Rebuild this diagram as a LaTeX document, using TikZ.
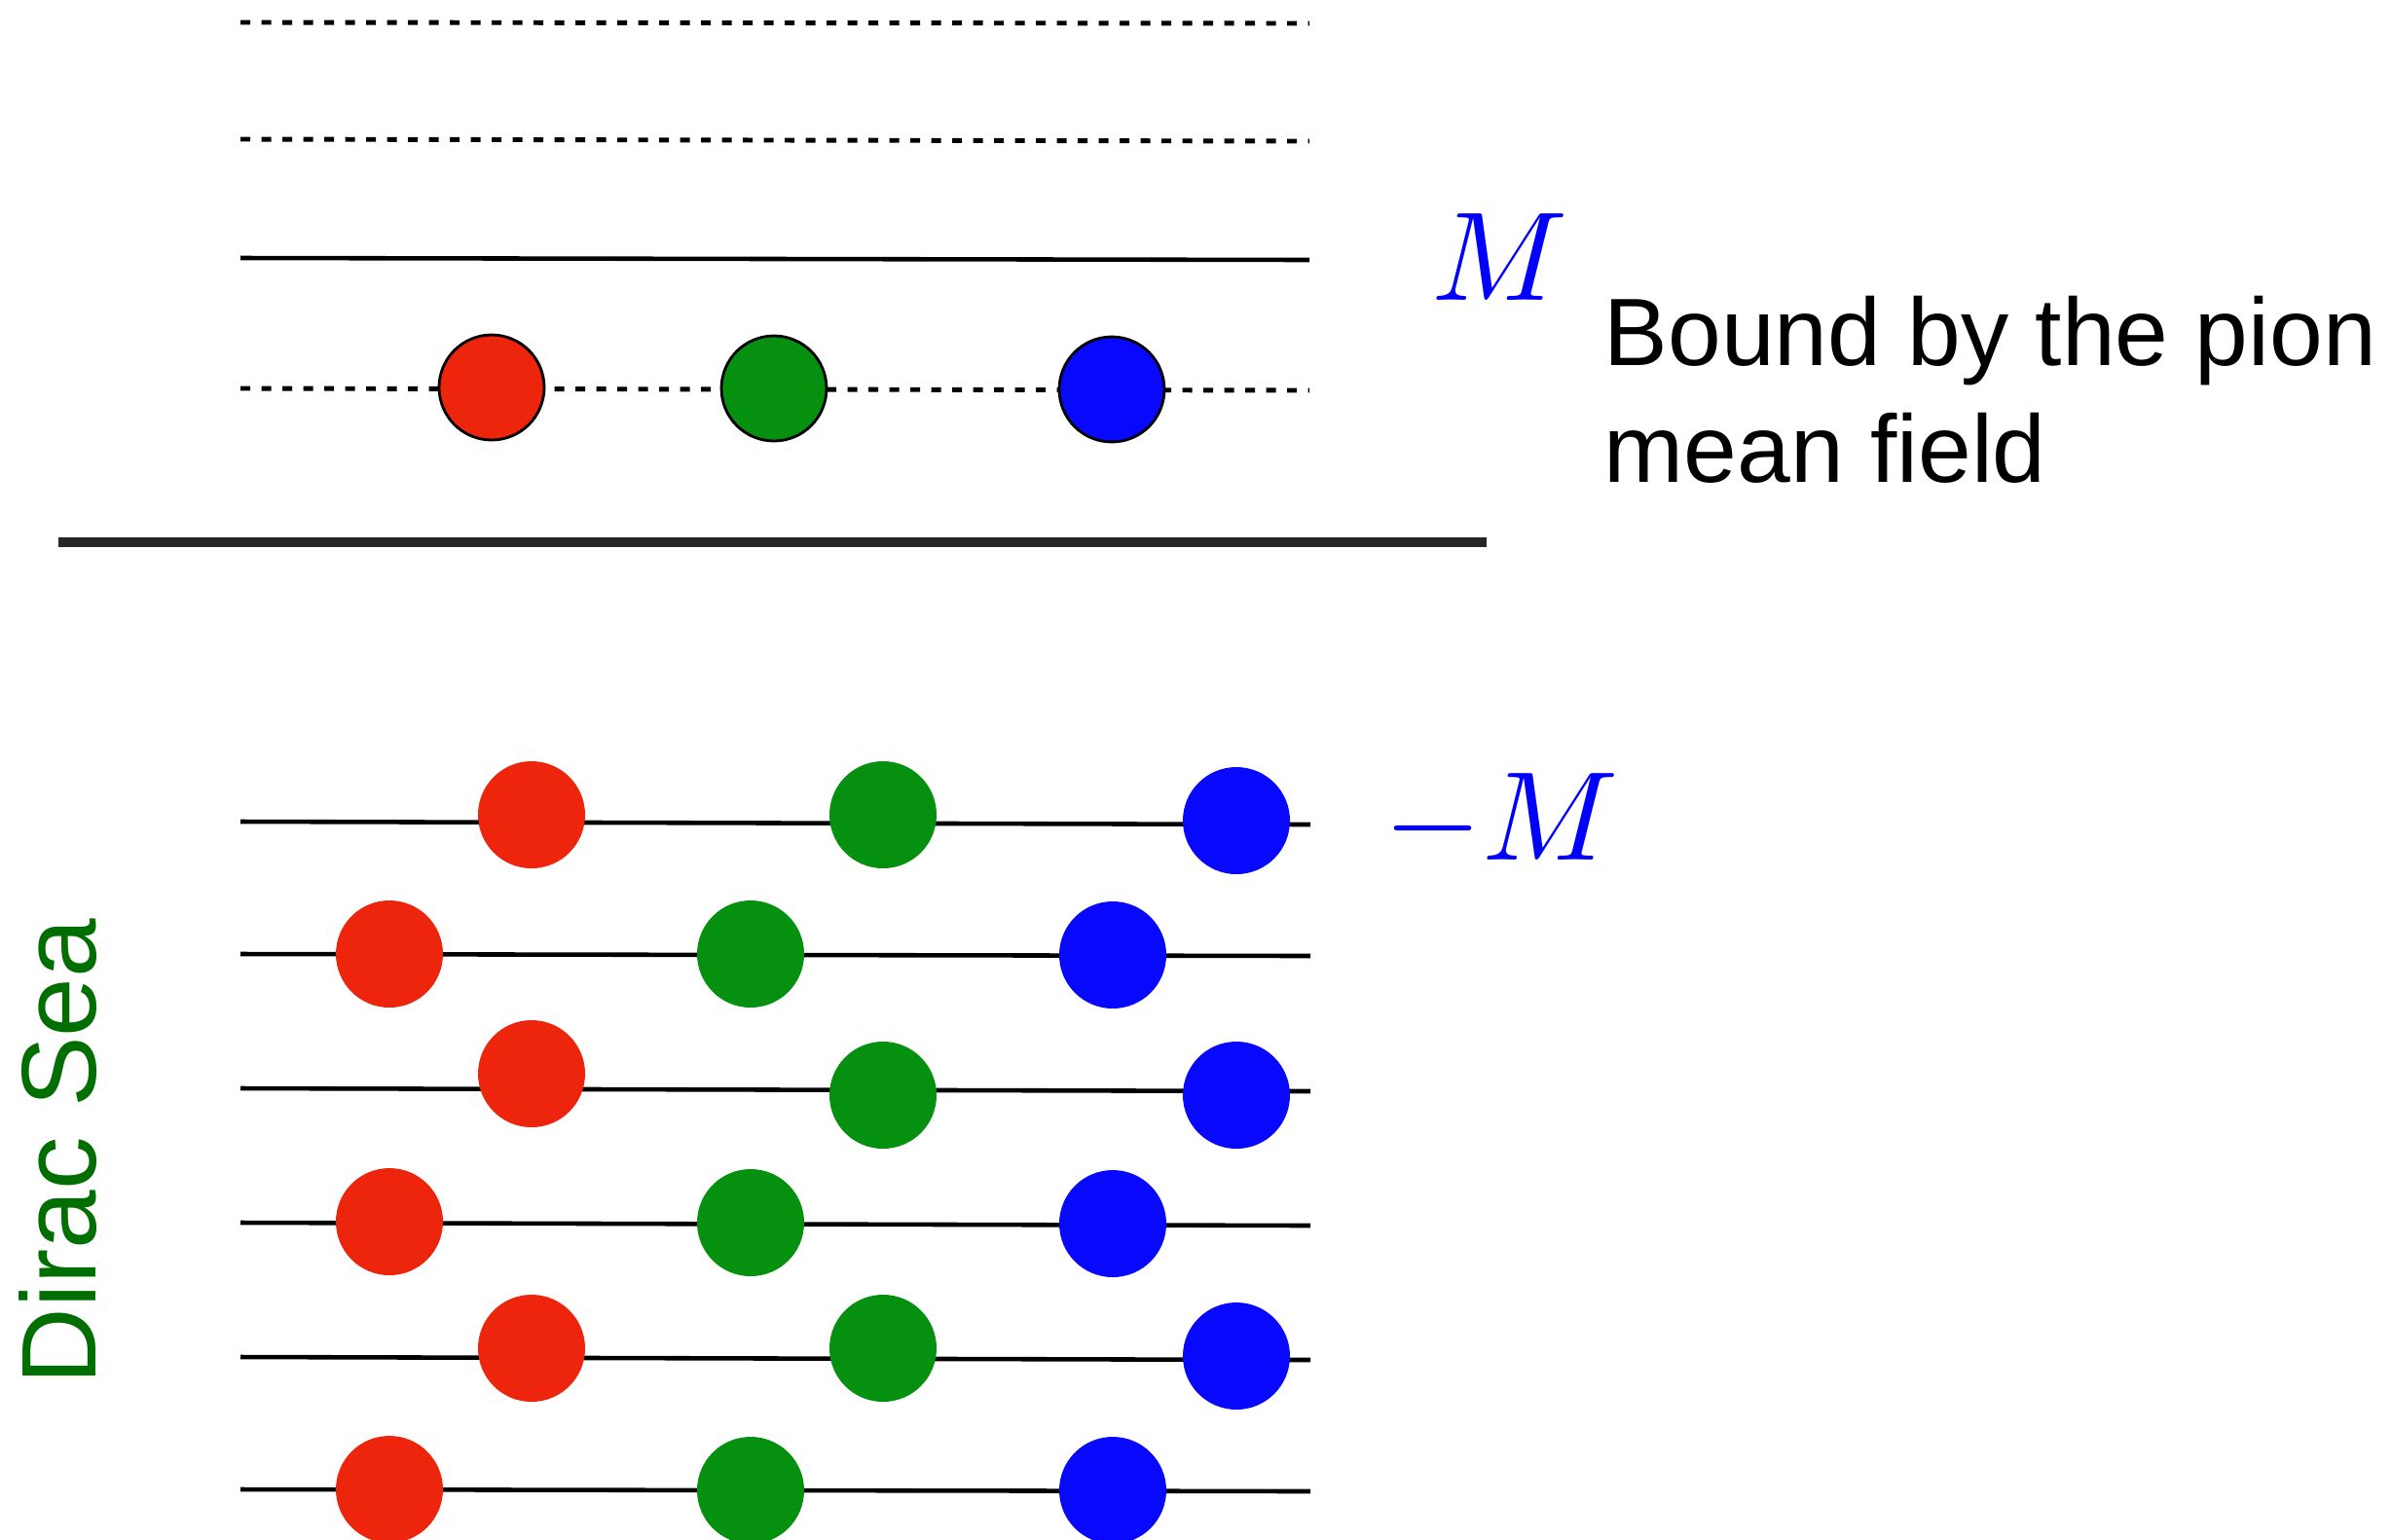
\documentclass[tikz,border=0pt]{standalone}
\usepackage{fontspec}
\setmainfont{Liberation Sans}
\usetikzlibrary{calc}

\definecolor{quarkred}{RGB}{238,37,13}
\definecolor{quarkgreen}{RGB}{5,145,15}
\definecolor{quarkblue}{RGB}{8,8,255}
\definecolor{seagreen}{RGB}{0,110,0}

\begin{document}
\begin{tikzpicture}[
    level/.style={line width=1.3pt},
    emptylevel/.style={line width=1.4pt, dash pattern=on 0.1cm off 0.115cm},
    valence/.style={circle, draw=black, line width=0.8pt, minimum size=1.08cm, inner sep=0pt},
    seaquark/.style={circle, minimum size=1.1cm, inner sep=0pt},
    mass/.style={text=blue, inner sep=0pt, anchor=base, scale=3.7}
  ]
    \useasboundingbox (0,0) rectangle (24.56,-15.81);

    % empty positive energy levels
    \coordinate (e1w) at (2.47,-0.23);  \coordinate (e1e) at (13.45,-0.24);
    \coordinate (e2w) at (2.47,-1.43);  \coordinate (e2e) at (13.45,-1.45);
    \coordinate (mw) at (2.47,-2.65);   \coordinate (me) at (13.45,-2.67);
    \coordinate (vw) at (2.47,-3.99);   \coordinate (ve) at (13.45,-4.01);
    \draw[emptylevel] (e1w) -- (e1e);
    \draw[emptylevel] (e2w) -- (e2e);
    \draw[level] (mw) -- (me);
    \draw[emptylevel] (vw) -- (ve);

    \node[valence, fill=quarkred] (vr) at (5.05,-3.98) {};
    \node[valence, fill=quarkgreen] (vg) at (7.95,-3.99) {};
    \node[valence, fill=quarkblue] (vb) at (11.42,-4.0) {};

    \node[mass] (plusm) at (15.41,-3.08) {$M$};
    \node[anchor=base west, inner sep=0pt, align=left, font=\fontsize{28}{33.9}\selectfont] (bound) at (16.47,-4.95) {Bound by the pion\\mean field};

    % gap
    \coordinate (gapw) at (0.6,-5.57);
    \coordinate (gape) at (15.27,-5.57);
    \draw[line width=0.1cm, black!85] (gapw) -- (gape);

    % filled negative energy levels
    \coordinate (s1w) at (2.47,-8.44);  \coordinate (s1e) at (13.46,-8.47);
    \coordinate (s2w) at (2.47,-9.80);  \coordinate (s2e) at (13.46,-9.82);
    \coordinate (s3w) at (2.47,-11.18); \coordinate (s3e) at (13.46,-11.21);
    \coordinate (s4w) at (2.47,-12.56); \coordinate (s4e) at (13.46,-12.59);
    \coordinate (s5w) at (2.47,-13.94); \coordinate (s5e) at (13.46,-13.97);
    \coordinate (s6w) at (2.47,-15.30); \coordinate (s6e) at (13.46,-15.32);
    \draw[level] (s1w) -- (s1e);
    \draw[level] (s2w) -- (s2e);
    \draw[level] (s3w) -- (s3e);
    \draw[level] (s4w) -- (s4e);
    \draw[level] (s5w) -- (s5e);
    \draw[level] (s6w) -- (s6e);

    \node[seaquark, fill=quarkred] (r1) at (5.46,-8.37) {};
    \node[seaquark, fill=quarkgreen] (g1) at (9.07,-8.37) {};
    \node[seaquark, fill=quarkblue] (b1) at (12.70,-8.43) {};

    \node[seaquark, fill=quarkred] (r2) at (4.00,-9.80) {};
    \node[seaquark, fill=quarkgreen] (g2) at (7.71,-9.80) {};
    \node[seaquark, fill=quarkblue] (b2) at (11.43,-9.81) {};

    \node[seaquark, fill=quarkred] (r3) at (5.46,-11.03) {};
    \node[seaquark, fill=quarkgreen] (g3) at (9.07,-11.25) {};
    \node[seaquark, fill=quarkblue] (b3) at (12.70,-11.25) {};

    \node[seaquark, fill=quarkred] (r4) at (4.00,-12.55) {};
    \node[seaquark, fill=quarkgreen] (g4) at (7.71,-12.56) {};
    \node[seaquark, fill=quarkblue] (b4) at (11.43,-12.57) {};

    \node[seaquark, fill=quarkred] (r5) at (5.46,-13.85) {};
    \node[seaquark, fill=quarkgreen] (g5) at (9.07,-13.85) {};
    \node[seaquark, fill=quarkblue] (b5) at (12.70,-13.93) {};

    \node[seaquark, fill=quarkred] (r6) at (4.00,-15.30) {};
    \node[seaquark, fill=quarkgreen] (g6) at (7.71,-15.31) {};
    \node[seaquark, fill=quarkblue] (b6) at (11.43,-15.31) {};

    \node[mass] (minusm) at (15.42,-8.83) {$-M$};
    \node[rotate=90, anchor=base, inner sep=0pt, text=seagreen, font=\fontsize{31}{33}\selectfont] (dirac) at (0.99,-11.83) {Dirac Sea};
\end{tikzpicture}
\end{document}
